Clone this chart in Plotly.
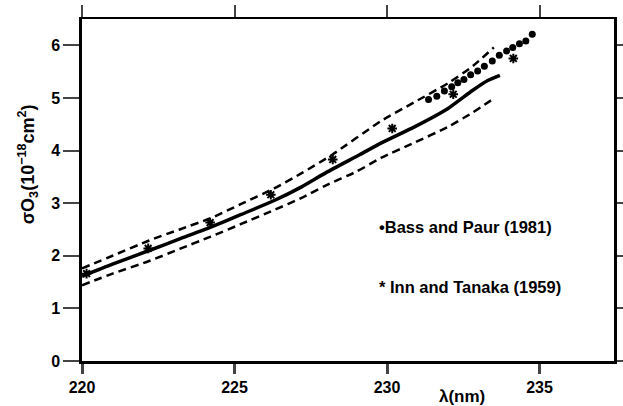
import plotly.graph_objects as go

# Solid curve (cross-section) and ± uncertainty dashed envelopes
solid_x = [220.0, 221.0, 222.2, 223.2, 224.2, 225.2, 226.3, 227.2, 228.0, 229.1, 229.8, 230.9, 232.0, 232.8, 233.3, 233.7]
solid_y = [1.61, 1.84, 2.10, 2.32, 2.54, 2.78, 3.05, 3.31, 3.58, 3.92, 4.14, 4.45, 4.80, 5.14, 5.33, 5.43]

upper_x = [220.0, 221.0, 222.2, 223.2, 224.2, 225.2, 226.3, 227.2, 228.2, 229.8, 230.9, 232.0, 232.8, 233.5]
upper_y = [1.76, 2.00, 2.29, 2.50, 2.71, 2.98, 3.28, 3.57, 3.92, 4.56, 4.92, 5.28, 5.60, 5.96]

lower_x = [220.0, 221.0, 222.2, 223.2, 224.2, 225.2, 226.3, 227.2, 228.0, 229.0, 229.8, 230.9, 232.0, 232.8, 233.5]
lower_y = [1.44, 1.66, 1.90, 2.13, 2.36, 2.60, 2.87, 3.10, 3.34, 3.60, 3.86, 4.15, 4.45, 4.72, 4.99]

# Bass and Paur (1981)
bp_x = [231.36, 231.63, 231.88, 232.12, 232.32, 232.52, 232.74, 232.97, 233.19, 233.45, 233.68, 233.92, 234.12, 234.34, 234.55, 234.76]
bp_y = [4.97, 5.03, 5.13, 5.21, 5.29, 5.35, 5.44, 5.51, 5.60, 5.70, 5.81, 5.89, 5.96, 6.03, 6.08, 6.21]

# Inn and Tanaka (1959)
it_x = [220.15, 222.17, 224.2, 226.19, 228.22, 230.17, 232.17, 234.14]
it_y = [1.66, 2.14, 2.63, 3.16, 3.83, 4.42, 5.07, 5.75]

x_ticks = [220, 225, 230, 235]
y_ticks = [0, 1, 2, 3, 4, 5, 6]
x_range = [220, 237.44]
y_range = [0, 6.50]

FONT = "Liberation Sans, Arial, Helvetica, sans-serif"

fig = go.Figure()
fig.add_trace(go.Scatter(x=solid_x, y=solid_y, mode="lines",
                         line=dict(color="black", width=3.5, shape="spline", smoothing=0.6), showlegend=False))
fig.add_trace(go.Scatter(x=upper_x, y=upper_y, mode="lines",
                         line=dict(color="black", width=2.5, dash="8px,5px", shape="spline", smoothing=0.6), showlegend=False))
fig.add_trace(go.Scatter(x=lower_x, y=lower_y, mode="lines",
                         line=dict(color="black", width=2.5, dash="8px,5px", shape="spline", smoothing=0.6), showlegend=False))
fig.add_trace(go.Scatter(x=bp_x, y=bp_y, mode="markers", marker=dict(color="black", size=7, symbol="circle"), showlegend=False))
fig.add_trace(go.Scatter(x=it_x, y=it_y, mode="markers",
                         marker=dict(color="black", size=8, symbol="asterisk", line=dict(color="black", width=2)), showlegend=False))
# empty trace to carry the top/right frame axes
fig.add_trace(go.Scatter(x=[], y=[], xaxis="x2", yaxis="y2", showlegend=False))

tickfont = dict(family=FONT, size=16, color="black", weight="bold")
lblfont = dict(family=FONT, size=16.5, color="black", weight="bold")

fig.update_layout(
    width=623, height=406,
    margin=dict(l=82, r=9, t=19, b=45, autoexpand=False),
    paper_bgcolor="white", plot_bgcolor="white",
    xaxis=dict(range=x_range, tickvals=x_ticks, ticks="outside", ticklen=10, tickwidth=2.5,
               showline=True, linewidth=2.5, linecolor="black", showgrid=False, zeroline=False,
               tickfont=tickfont, automargin=False),
    yaxis=dict(range=y_range, tickvals=y_ticks, ticks="outside", ticklen=16, tickwidth=2,
               showline=True, linewidth=2.5, linecolor="black", showgrid=False, zeroline=False,
               tickfont=tickfont, automargin=False),
    xaxis2=dict(range=x_range, tickvals=x_ticks, ticks="outside", ticklen=12, tickwidth=1.5,
                overlaying="x", side="top", anchor="y", showline=True, linewidth=1.5, linecolor="black",
                showticklabels=False, showgrid=False, zeroline=False, automargin=False),
    yaxis2=dict(range=y_range, tickvals=y_ticks, ticks="outside", ticklen=7, tickwidth=2,
                overlaying="y", side="right", anchor="x", showline=True, linewidth=2.5, linecolor="black",
                showticklabels=False, showgrid=False, zeroline=False, automargin=False),
    annotations=[
        dict(text="σO<sub>3</sub>(10<sup>−18</sup>cm<sup>2</sup>)", textangle=-90,
             xref="paper", yref="paper", x=-0.103, y=0.576, xanchor="center", yanchor="middle",
             showarrow=False, font=dict(family=FONT, size=18, color="black", weight="bold")),
        dict(text="λ(nm)", xref="paper", yref="paper", x=0.714, y=-0.103,
             xanchor="center", yanchor="middle", showarrow=False,
             font=dict(family=FONT, size=17, color="black", weight="bold")),
        dict(text="•Bass and Paur (1981)", xref="paper", yref="paper", x=0.555, y=0.393,
             xanchor="left", yanchor="middle", showarrow=False, font=lblfont),
        dict(text="* Inn and Tanaka (1959)", xref="paper", yref="paper", x=0.555, y=0.2155,
             xanchor="left", yanchor="middle", showarrow=False, font=lblfont),
    ],
)

fig.write_html("out.html", config={"displayModeBar": False},
               post_script="document.body.style.margin='0';document.body.style.overflow='hidden';")
